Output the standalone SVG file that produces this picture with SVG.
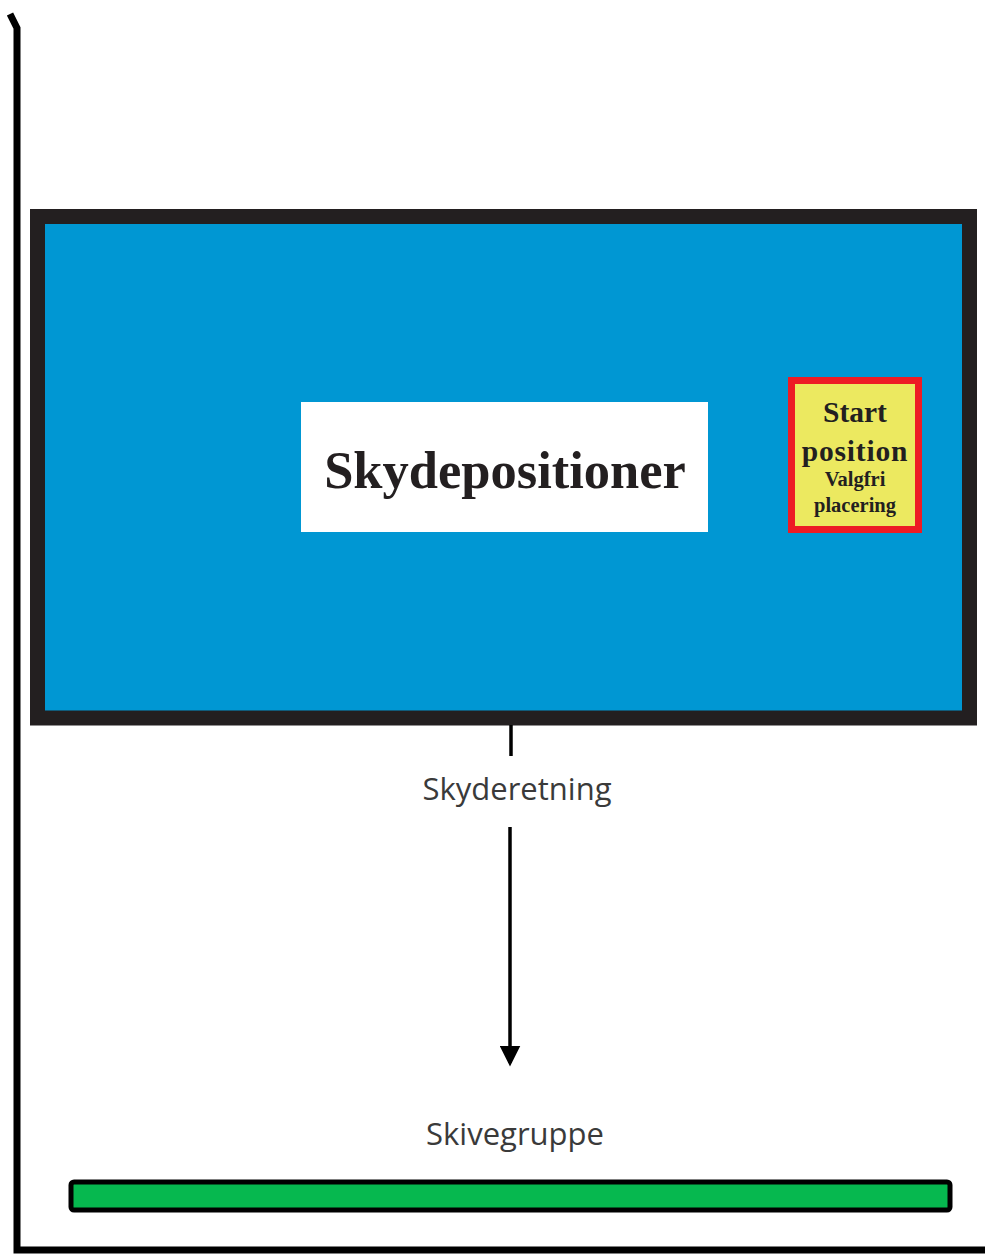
<svg xmlns="http://www.w3.org/2000/svg" width="985" height="1256" viewBox="0 0 985 1256">
<style>
.serif{font-family:"Liberation Serif","DejaVu Serif",serif;font-weight:bold;fill:#231f20;text-anchor:middle}
.sans{font-family:"Open Sans","Liberation Sans",sans-serif;fill:#3a3a3a;text-anchor:middle;font-size:31px}
</style>
<defs>
<marker id="ah" markerWidth="6" markerHeight="6" refX="5" refY="3" orient="auto" markerUnits="strokeWidth">
<path d="M0,0 L6,3 L0,6 z" fill="#000"/>
</marker>
</defs>
<rect width="985" height="1256" fill="#fff"/>
<g id="frame">
<path d="M10,14 L17,28 L17,1250 L985,1250" fill="none" stroke="#000" stroke-width="7"/>
</g>
<g id="skydepositioner-area">
<rect x="37.5" y="216.5" width="932" height="501.5" fill="#0097d3" stroke="#231f20" stroke-width="15"/>
</g>
<g id="skydepositioner">
<rect x="301" y="402" width="407" height="130" fill="#fff"/>
<text class="serif" x="505" y="488" font-size="52.5">Skydepositioner</text>
</g>
<g id="start-position">
<rect x="791.5" y="380.5" width="127" height="149" fill="#ece960" stroke="#ed1c24" stroke-width="7"/>
<text class="serif" x="855" y="422" font-size="29.5">Start</text>
<text class="serif" x="855" y="461" font-size="29.5" letter-spacing="0.8">position</text>
<text class="serif" x="855" y="486" font-size="20.5">Valgfri</text>
<text class="serif" x="855" y="512" font-size="20.5">placering</text>
</g>
<g id="connectors">
<line x1="511" y1="725" x2="511" y2="756" stroke="#000" stroke-width="3.5"/>
<line x1="510" y1="827" x2="510" y2="1063" stroke="#000" stroke-width="3.5" marker-end="url(#ah)"/>
</g>
<g id="skyderetning">
<text class="sans" x="517" y="800">Skyderetning</text>
</g>
<g id="skivegruppe">
<text class="sans" x="515" y="1145" font-size="30.5">Skivegruppe</text>
<rect x="71" y="1182" width="879" height="28" rx="3" fill="#06b84f" stroke="#000" stroke-width="5"/>
</g>
</svg>
